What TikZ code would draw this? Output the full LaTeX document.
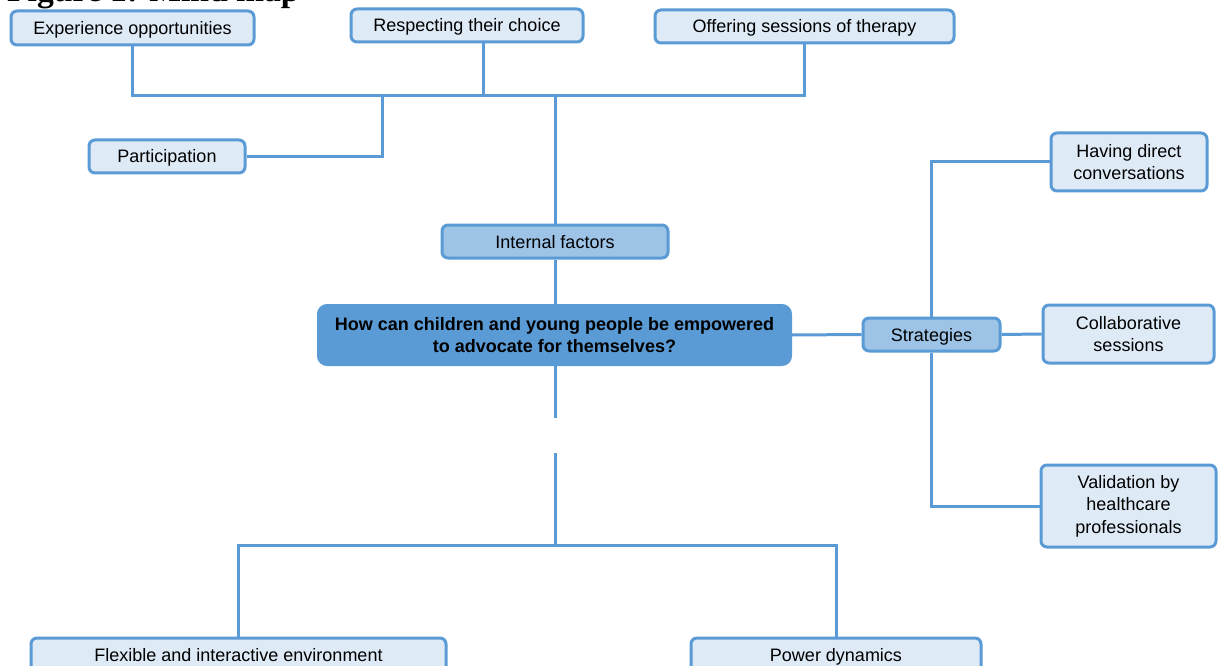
\documentclass[tikz,border=0pt]{standalone}
\usepackage{fontspec}
\setmainfont{Liberation Sans}
\newfontfamily\titlefont{Liberation Serif}
\definecolor{lineblue}{HTML}{5B9BD5}
\definecolor{lightfill}{HTML}{DEEBF7}
\definecolor{midfill}{HTML}{9DC3E6}
\begin{document}
\begin{tikzpicture}[x=1pt,y=-1pt,
  box/.style={draw=lineblue, line width=3pt, rounded corners=6pt, fill=lightfill,
    font=\fontsize{18}{22.5}\selectfont, align=center, inner sep=0pt},
  oneline/.style={text height=13pt, text depth=0pt},
  mainbox/.style={draw=lineblue, line width=2pt, rounded corners=9pt, fill=lineblue,
    font=\bfseries\fontsize{18}{22}\selectfont, align=center, inner sep=0pt},
  conn/.style={draw=lineblue, line width=3pt}]
\useasboundingbox (0,0) rectangle (1219,666);
\clip (0,0) rectangle (1219,666);

\node[anchor=base west, inner sep=0pt, font=\titlefont\bfseries\fontsize{33.6}{40}\selectfont] (title) at (7,1.5) {Figure 1: Mind map};

\node[box, oneline, minimum width=243pt, minimum height=34pt] (exp) at (132.5,28) {Experience opportunities};
\node[box, oneline, minimum width=232pt, minimum height=33pt] (resp) at (467,25.5) {Respecting their choice};
\node[box, oneline, minimum width=299pt, minimum height=33pt] (off) at (804.5,26.5) {Offering sessions of therapy};
\node[box, oneline, minimum width=156pt, minimum height=33pt] (part) at (167,156.5) {Participation};
\node[box, oneline, fill=midfill, minimum width=226pt, minimum height=33pt] (int) at (555,241.5) {Internal factors};
\node[mainbox, minimum width=473pt, minimum height=60pt] (main) at (554.5,335) {How can children and young people be empowered\\to advocate for themselves?};
\node[box, oneline, fill=midfill, minimum width=137pt, minimum height=33pt] (strat) at (931.5,334.5) {Strategies};
\node[box, minimum width=156pt, minimum height=58pt] (have) at (1129,162) {Having direct\\conversations};
\node[box, minimum width=171pt, minimum height=58pt] (coll) at (1128.5,334) {Collaborative\\sessions};
\node[box, minimum width=175pt, minimum height=82pt] (val) at (1128.5,506) {Validation by\\healthcare\\professionals};
\node[box, oneline, minimum width=415pt, minimum height=34pt] (flex) at (238.5,655) {Flexible and interactive environment};
\node[box, oneline, minimum width=290pt, minimum height=34pt] (pow) at (836,655) {Power dynamics};

\coordinate (jR) at (483,96);
\coordinate (jP) at (382,96);
\coordinate (jI) at (555,96);
\coordinate (g1) at (555,418);
\coordinate (g2) at (555,453);
\coordinate (jB) at (555,545);

\draw[conn] (exp.south) |- (off.south |- jR) -- (off.south);
\draw[conn] (resp.south -| jR) -- (jR);
\draw[conn] (jP) |- (part.east);
\draw[conn] (jI) -- (int.north);
\draw[conn] (int.south) -- (main.north -| int.south);
\draw[conn] (main.south -| g1) -- (g1);
\draw[conn] (g2) -- (jB);
\draw[conn] (flex.north) |- (jB) -| (pow.north);
\draw[conn] (main.east) -- (strat.west);
\draw[conn] (strat.north) |- (have.west);
\draw[conn] (strat.east) -- (coll.west);
\draw[conn] (strat.south) |- (val.west);
\end{tikzpicture}
\end{document}
